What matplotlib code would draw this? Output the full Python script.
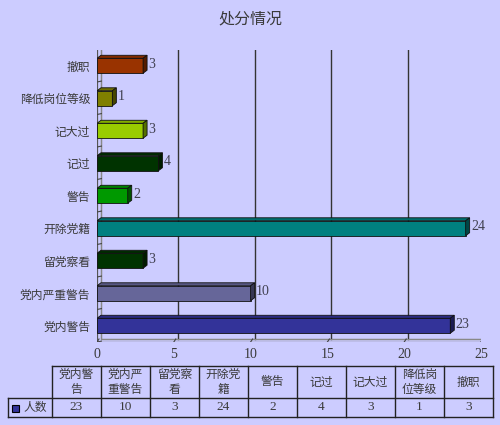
import numpy as np
import matplotlib
matplotlib.use("Agg")
import matplotlib.pyplot as plt
import matplotlib.transforms as mtransforms
from matplotlib.patches import Polygon, Rectangle
from matplotlib.lines import Line2D

plt.rcParams['font.family'] = ['Noto Sans CJK SC', 'DejaVu Sans']

# data (bottom to top as drawn)
categories = ['党内警告', '党内严重警告', '留党察看', '开除党籍', '警告', '记过', '记大过', '降低岗位等级', '撤职']
counts = [23, 10, 3, 24, 2, 4, 3, 1, 3]
bar_colors = ['#333399', '#666699', '#003300', '#008080', '#009900', '#003300', '#99CC00', '#808000', '#993300']
series_name = '人数'
title = '处分情况'
x_ticks = [0, 5, 10, 15, 20, 25]

bg = '#CCCCFF'
txt = '#3a3a3a'
num_font = ['Liberation Serif', 'Noto Sans CJK SC']

W, H = 500, 425
fig = plt.figure(figsize=(W / 100, H / 100), dpi=100, facecolor=bg)

def fx(px):
    return px / W

def fy(py):
    return 1 - py / H

# plot area (front plane)
ax_l, ax_r, ax_t, ax_b = 97, 481, 49.5, 342
ax = fig.add_axes([fx(ax_l), fy(ax_b), fx(ax_r - ax_l), (ax_b - ax_t) / H])
ax.set_facecolor(bg)
ax.patch.set_alpha(0)
ax.set_xlim(0, 25)
ax.set_ylim(-0.5, len(categories) - 0.5)
for s in ax.spines.values():
    s.set_visible(False)

# 3d depth in pixels -> data units
dpx, dpy = 4, 3
ddx = dpx * 25 / (ax_r - ax_l)
ddy = dpy * len(categories) / (ax_b - ax_t)
back = ax.transData + mtransforms.ScaledTranslation(dpx / 100, dpy / 100, fig.dpi_scale_trans)

# back wall + gridlines
ax.add_patch(Rectangle((0, -0.5), 25, len(categories), fill=False, edgecolor='#888888',
                       lw=1, transform=back, zorder=1))
for t in x_ticks[1:-1]:
    ax.add_line(Line2D([t, t], [-0.5, len(categories) - 0.5], color='#333333', lw=1,
                       transform=back, zorder=1))

# left wall and floor
y0, y1 = -0.5, len(categories) - 0.5
ax.add_line(Line2D([0, 0], [y0, y1], color='#555555', lw=0.9, zorder=2))
ax.add_line(Line2D([ddx, ddx], [y0 + ddy, y1 + ddy], color='#888888', lw=0.8, zorder=2))
ax.add_line(Line2D([0, ddx], [y1, y1 + ddy], color='#555555', lw=0.8, zorder=2))
for k in range(len(categories) + 1):
    yy = k - 0.5
    ax.add_line(Line2D([0, ddx * 1.1], [yy, yy + ddy * 0.3], color='#444444', lw=0.8, zorder=2))
ax.add_line(Line2D([0, 25], [y0, y0], color='#555555', lw=0.9, zorder=2))
ax.add_line(Line2D([ddx, 25 + ddx], [y0 + ddy, y0 + ddy], color='#888888', lw=0.8, zorder=2))
ax.add_line(Line2D([25, 25 + ddx], [y0, y0 + ddy], color='#555555', lw=0.8, zorder=2))
for t in x_ticks:
    ax.add_line(Line2D([t, t + ddx * 0.5], [y0, y0 + ddy], color='#444444', lw=0.8, zorder=2))

# bars
bh = 0.46
ypos = np.arange(len(categories))
ax.barh(ypos, counts, height=bh, color=bar_colors, edgecolor='#111111', lw=0.6, zorder=3)
for y, v, c in zip(ypos, counts, bar_colors):
    rgb = np.array(matplotlib.colors.to_rgb(c))
    top = Polygon([[0, y + bh / 2], [ddx, y + bh / 2 + ddy], [v + ddx, y + bh / 2 + ddy], [v, y + bh / 2]],
                  closed=True, facecolor=rgb * 0.85, edgecolor='#111111', lw=0.6, zorder=3)
    side = Polygon([[v, y - bh / 2], [v + ddx, y - bh / 2 + ddy], [v + ddx, y + bh / 2 + ddy], [v, y + bh / 2]],
                   closed=True, facecolor=rgb * 0.55, edgecolor='#111111', lw=0.6, zorder=3)
    ax.add_patch(top)
    ax.add_patch(side)
    ax.text(v + ddx + 0.1, y + ddy * 0.5, str(v), va='center', ha='left', fontsize=10,
            color='#404050', family=num_font, zorder=4)

ax.set_yticks(ypos)
ax.set_yticklabels(categories, fontsize=8.5, color=txt)
ax.set_xticks(x_ticks)
ax.set_xticklabels([str(t) for t in x_ticks], fontsize=10, color=txt, family=num_font)
ax.tick_params(axis='both', length=0)
ax.tick_params(axis='y', pad=5)
ax.tick_params(axis='x', pad=4)

fig.text(fx(250), fy(19), title, ha='center', va='center', fontsize=11.5, color=txt)

# data table
tl, t_first, t_right = 8, 52, 493
t_top, t_mid, t_bot = 366, 398, 417
n = len(categories)
cw = (t_right - t_first) / n
lc = '#222222'
fig.add_artist(Line2D([fx(t_first), fx(t_right)], [fy(t_top), fy(t_top)], color=lc, lw=1))
fig.add_artist(Line2D([fx(tl), fx(t_right)], [fy(t_mid), fy(t_mid)], color=lc, lw=1))
fig.add_artist(Line2D([fx(tl), fx(t_right)], [fy(t_bot), fy(t_bot)], color=lc, lw=1))
fig.add_artist(Line2D([fx(tl), fx(tl)], [fy(t_mid), fy(t_bot)], color=lc, lw=1))
for i in range(n + 1):
    xx = t_first + i * cw
    fig.add_artist(Line2D([fx(xx), fx(xx)], [fy(t_top), fy(t_bot)], color=lc, lw=1))
for i, (name, v) in enumerate(zip(categories, counts)):
    cx = t_first + (i + 0.5) * cw
    label = name if len(name) <= 3 else name[:3] + '\n' + name[3:]
    fig.text(fx(cx), fy((t_top + t_mid) / 2), label, ha='center', va='center', fontsize=8.5,
             color=txt, linespacing=1.25)
    fig.text(fx(cx), fy((t_mid + t_bot) / 2), str(v), ha='center', va='center', fontsize=9.5,
             color=txt, family=num_font)
fig.add_artist(Rectangle((fx(12), fy(412)), fx(7), 7 / H, facecolor=bar_colors[0],
                         edgecolor='#000000', lw=0.8, transform=fig.transFigure))
fig.text(fx(23), fy((t_mid + t_bot) / 2), series_name, ha='left', va='center', fontsize=8.5, color=txt)

fig.savefig('out.png', dpi=100, facecolor=bg)
